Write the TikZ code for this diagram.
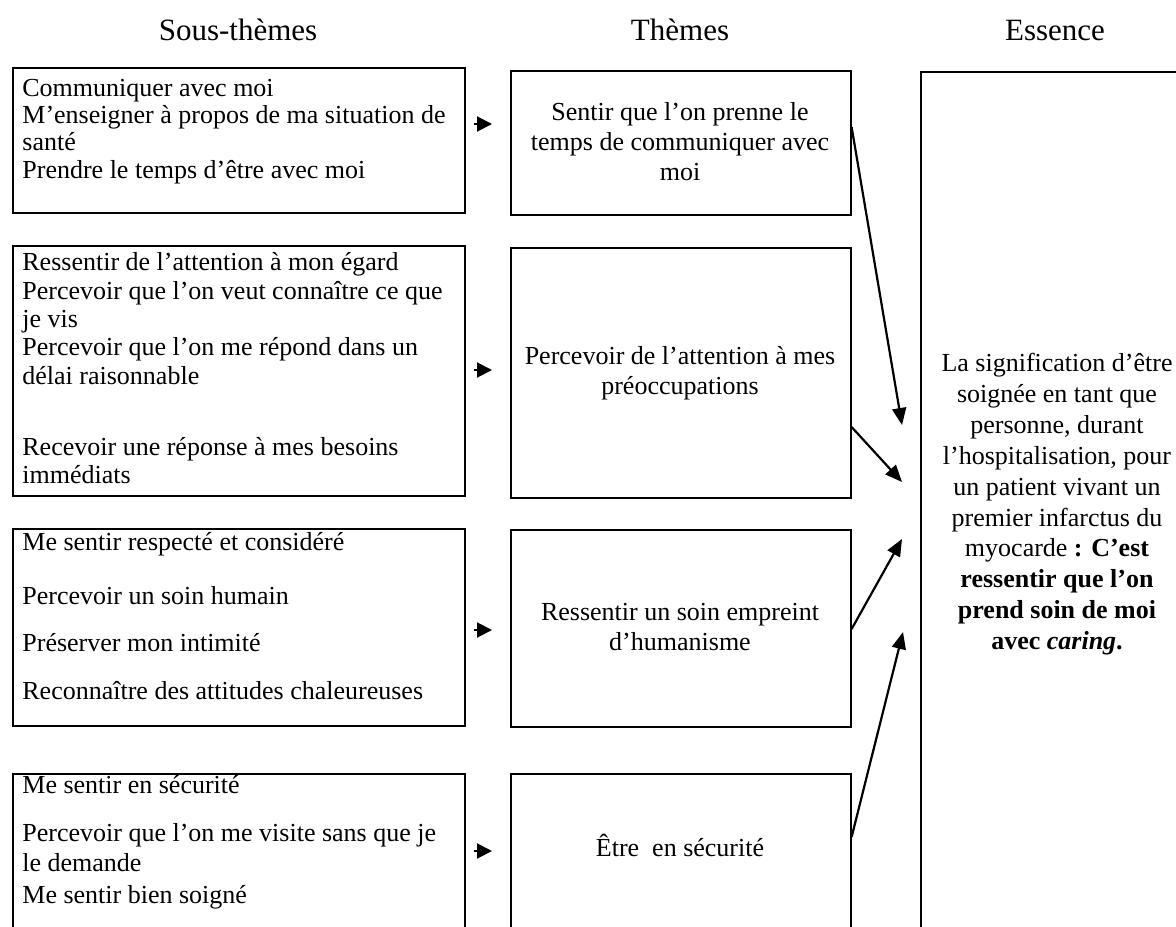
\documentclass[tikz,border=0pt]{standalone}
\usepackage{fontspec}
\setmainfont{Liberation Serif}
\usetikzlibrary{arrows.meta}
\begin{document}
\begin{tikzpicture}[x=0.5pt,y=-0.5pt,
  box/.style={draw, line width=0.8pt, inner sep=0pt, anchor=north west},
  sub/.style={anchor=base west, inner sep=0pt, font=\fontsize{13}{15}\selectfont},
  thm/.style={anchor=base, inner sep=0pt, font=\fontsize{13}{15}\selectfont},
  ttl/.style={anchor=base, inner sep=0pt, font=\fontsize{15.5}{18}\selectfont},
  smallarr/.style={line width=1pt, -{Triangle[length=7.5pt,width=7.5pt]}, shorten <=4pt, shorten >=9pt},
  bigarr/.style={line width=1.1pt, -{Triangle[length=8.5pt,width=7pt]}}]
\useasboundingbox (0,0) rectangle (1176,926);

% titles
\node[ttl] (h1) at (238,40) {Sous-thèmes};
\node[ttl] (h2) at (680,40) {Thèmes};
\node[ttl] (h3) at (1055,40) {Essence};

% boxes
\node[box, minimum width=226pt, minimum height=72.5pt] (l1) at (12,67) {};
\node[box, minimum width=170pt, minimum height=72pt] (t1) at (510,70) {};
\node[box, minimum width=226pt, minimum height=125pt] (l2) at (12,245) {};
\node[box, minimum width=170pt, minimum height=125pt] (t2) at (510,247) {};
\node[box, minimum width=226pt, minimum height=98.5pt] (l3) at (12,528) {};
\node[box, minimum width=170pt, minimum height=98.5pt] (t3) at (510,529) {};
\node[box, minimum width=226pt, minimum height=90pt] (l4) at (12,773) {};
\node[box, minimum width=170pt, minimum height=90pt] (t4) at (510,773) {};
\node[box, minimum width=137.5pt, minimum height=440pt] (ess) at (920,71) {};

% sub-themes text
\node[sub] (s1a) at (22,96) {Communiquer avec moi};
\node[sub] (s1b) at (22,123) {M’enseigner à propos de ma situation de};
\node[sub] (s1c) at (22,150) {santé};
\node[sub] (s1d) at (22,178) {Prendre le temps d’être avec moi};

\node[sub] (s2a) at (22,270) {Ressentir de l’attention à mon égard};
\node[sub] (s2b) at (22,299) {Percevoir que l’on veut connaître ce que};
\node[sub] (s2c) at (22,327) {je vis};
\node[sub] (s2d) at (22,355) {Percevoir que l’on me répond dans un};
\node[sub] (s2e) at (22,384) {délai raisonnable};
\node[sub] (s2f) at (22,455) {Recevoir une réponse à mes besoins};
\node[sub] (s2g) at (22,483) {immédiats};

\node[sub] (s3a) at (22,550) {Me sentir respecté et considéré};
\node[sub] (s3b) at (22,604) {Percevoir un soin humain};
\node[sub] (s3c) at (22,651) {Préserver mon intimité};
\node[sub] (s3d) at (22,699) {Reconnaître des attitudes chaleureuses};

\node[sub] (s4a) at (22,793) {Me sentir en sécurité};
\node[sub] (s4b) at (22,841) {Percevoir que l’on me visite sans que je};
\node[sub] (s4c) at (22,871) {le demande};
\node[sub] (s4d) at (22,903) {Me sentir bien soigné};

% themes text
\node[thm] (th1a) at (680,120) {Sentir que l’on prenne le};
\node[thm] (th1b) at (680,150) {temps de communiquer avec};
\node[thm] (th1c) at (680,180) {moi};
\node[thm] (th2a) at (680,364) {Percevoir de l’attention à mes};
\node[thm] (th2b) at (680,394) {préoccupations};
\node[thm] (th3a) at (680,620) {Ressentir un soin empreint};
\node[thm] (th3b) at (680,650) {d’humanisme};
\node[thm] (th4a) at (680,856) {Être\ \ en sécurité};

% essence text
\node[thm] (e1) at (1057,371) {La signification d’être};
\node[thm] (e2) at (1057,402) {soignée en tant que};
\node[thm] (e3) at (1057,433) {personne, durant};
\node[thm] (e4) at (1057,464) {l’hospitalisation, pour};
\node[thm] (e5) at (1057,495) {un patient vivant un};
\node[thm] (e6) at (1057,526) {premier infarctus du};
\node[thm] (e7) at (1057,556) {myocarde \textbf{: C’est}};
\node[thm] (e8) at (1057,587) {\textbf{ressentir que l’on}};
\node[thm] (e9) at (1057,618) {\textbf{prend soin de moi}};
\node[thm] (e10) at (1057,649) {\textbf{avec \textit{caring}.}};

% small arrows between columns
\coordinate (r1) at (0,124);
\coordinate (r2) at (0,370);
\coordinate (r3) at (0,630);
\coordinate (r4) at (0,851);
\draw[smallarr] (l1.east |- r1) -- (t1.west |- r1);
\draw[smallarr] (l2.east |- r2) -- (t2.west |- r2);
\draw[smallarr] (l3.east |- r3) -- (t3.west |- r3);
\draw[smallarr] (l4.east |- r4) -- (t4.west |- r4);

% arrows to essence
\coordinate (q1) at (0,127);
\coordinate (q2) at (0,427);
\coordinate (q3) at (0,629);
\coordinate (q4) at (0,837);
\coordinate (p1) at (902,425);
\coordinate (p2) at (902,482);
\coordinate (p3) at (902,539);
\coordinate (p4) at (903,632);
\draw[bigarr] (t1.east |- q1) -- (p1);
\draw[bigarr] (t2.east |- q2) -- (p2);
\draw[bigarr] (t3.east |- q3) -- (p3);
\draw[bigarr] (t4.east |- q4) -- (p4);
\end{tikzpicture}
\end{document}
